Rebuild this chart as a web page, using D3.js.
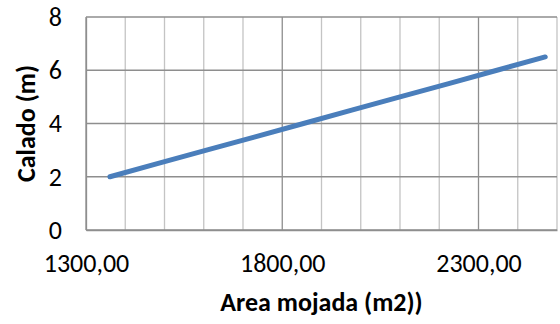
<!DOCTYPE html>
<html>
<head>
<meta charset="utf-8">
<script src="https://cdn.jsdelivr.net/npm/d3@7"></script>
<style>
  html, body { margin: 0; padding: 0; background: #fff; }
  svg { display: block; }
  text { font-family: Carlito, Calibri, "Open Sans", sans-serif; fill: #000; }
</style>
</head>
<body>
<svg id="chart" width="560" height="324"></svg>
<script>
// Wetted area (m2) against depth (m)
const areaValues  = [1361, 1484, 1607, 1731, 1854, 1977, 2100, 2224, 2347, 2470];
const depthValues = [2.0, 2.5, 3.0, 3.5, 4.0, 4.5, 5.0, 5.5, 6.0, 6.5];

const xMajorTicks = [1300, 1800, 2300];
const xMinorTicks = [1400, 1500, 1600, 1700, 1900, 2000, 2100, 2200, 2400, 2500];
const yTicks = [0, 2, 4, 6, 8];

const xTitle = "Area mojada (m2))";
const yTitle = "Calado (m)";

const margin = { left: 86, right: 3, top: 17, bottom: 94 };
const width = 560, height = 324;
const innerW = width - margin.left - margin.right;
const innerH = height - margin.top - margin.bottom;

const svg = d3.select("#chart");
const g = svg.append("g").attr("transform", `translate(${margin.left},${margin.top})`);

const x = d3.scaleLinear().domain([1300, 2500]).range([0, innerW]);
const y = d3.scaleLinear().domain([0, 8]).range([innerH, 0]);

// minor vertical gridlines
g.append("g")
  .selectAll("line")
  .data(xMinorTicks)
  .join("line")
  .attr("x1", d => x(d)).attr("x2", d => x(d))
  .attr("y1", 0).attr("y2", innerH)
  .attr("stroke", "#c4c4c4").attr("stroke-width", 1.3);

// major vertical gridlines
g.append("g")
  .selectAll("line")
  .data(xMajorTicks)
  .join("line")
  .attr("x1", d => x(d)).attr("x2", d => x(d))
  .attr("y1", 0).attr("y2", innerH)
  .attr("stroke", "#8e8e8e").attr("stroke-width", 1.3);

// horizontal gridlines
g.append("g")
  .selectAll("line")
  .data(yTicks)
  .join("line")
  .attr("x1", 0).attr("x2", innerW)
  .attr("y1", d => y(d)).attr("y2", d => y(d))
  .attr("stroke", "#8e8e8e").attr("stroke-width", 1.3);

// axes
const yAxis = g.append("g")
  .call(d3.axisLeft(y).tickValues(yTicks).tickSize(0).tickPadding(24).tickFormat(d3.format("d")));
yAxis.select(".domain").attr("stroke", "#8e8e8e").attr("stroke-width", 1.3);
yAxis.selectAll("text").style("font-size", "26px");

const fmt = d => d3.format(".2f")(d).replace(".", ",");
const xAxis = g.append("g")
  .attr("transform", `translate(0,${innerH})`)
  .call(d3.axisBottom(x).tickValues(xMajorTicks).tickSize(0).tickPadding(24).tickFormat(fmt));
xAxis.select(".domain").attr("stroke", "#8e8e8e").attr("stroke-width", 1.3);
xAxis.selectAll("text").style("font-size", "26px");

// series line
const pts = areaValues.map((a, i) => [a, depthValues[i]]);
g.append("path")
  .datum(pts)
  .attr("fill", "none")
  .attr("stroke", "#4a7ebb")
  .attr("stroke-width", 5)
  .attr("stroke-linecap", "round")
  .attr("stroke-linejoin", "round")
  .attr("d", d3.line().x(d => x(d[0])).y(d => y(d[1])));

// axis titles
svg.append("text")
  .attr("x", margin.left + innerW / 2)
  .attr("y", 311)
  .attr("text-anchor", "middle")
  .style("font-size", "26px")
  .style("font-weight", "bold")
  .text(xTitle);

svg.append("text")
  .attr("transform", `translate(35,${margin.top + innerH / 2}) rotate(-90)`)
  .attr("text-anchor", "middle")
  .style("font-size", "26px")
  .style("font-weight", "bold")
  .text(yTitle);
</script>
</body>
</html>
